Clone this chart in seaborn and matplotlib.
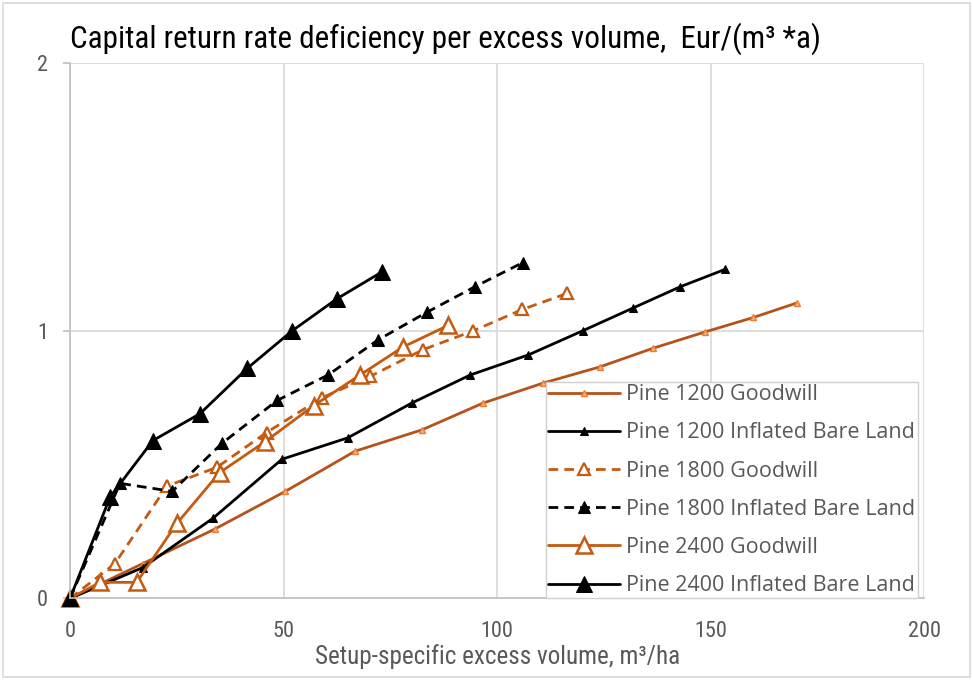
import matplotlib
matplotlib.use("Agg")
import matplotlib.pyplot as plt
from matplotlib import font_manager
from matplotlib.patches import Rectangle
import seaborn as sns
import pandas as pd

# --- data -------------------------------------------------------------
pine1200_gw_x = [0, 17, 34, 50.4, 66.7, 82.4, 96.7, 110.8, 124, 136.5, 148.7, 160, 170.3]
pine1200_gw_y = [0, 0.13, 0.26, 0.40, 0.55, 0.63, 0.73, 0.805, 0.865, 0.935, 0.996, 1.05, 1.105]

pine1200_bl_x = [0, 17, 33.5, 49.6, 65, 80, 93.7, 107.3, 120, 131.9, 142.9, 153.4]
pine1200_bl_y = [0, 0.115, 0.30, 0.52, 0.60, 0.73, 0.835, 0.91, 1.0, 1.086, 1.165, 1.23]

pine1800_gw_x = [0, 10.5, 22.7, 34.4, 46, 59, 70.3, 82.7, 94.4, 105.9, 116.4]
pine1800_gw_y = [0, 0.13, 0.42, 0.49, 0.62, 0.75, 0.83, 0.93, 1.0, 1.08, 1.14]

pine1800_bl_x = [0, 11.7, 23.9, 35.6, 48.5, 60.4, 72.1, 83.6, 94.8, 106]
pine1800_bl_y = [0, 0.43, 0.40, 0.58, 0.74, 0.835, 0.966, 1.07, 1.165, 1.255]

pine2400_gw_x = [0, 7, 15.6, 25, 35, 45.6, 57, 67.9, 78, 88.5]
pine2400_gw_y = [0, 0.06, 0.06, 0.28, 0.47, 0.585, 0.72, 0.835, 0.94, 1.02]

pine2400_bl_x = [0, 9.4, 19.4, 30.4, 41.5, 52, 62.5, 73]
pine2400_bl_y = [0, 0.38, 0.59, 0.69, 0.86, 1.0, 1.12, 1.22]

series_labels = [
    "Pine 1200 Goodwill",
    "Pine 1200 Inflated Bare Land",
    "Pine 1800 Goodwill",
    "Pine 1800 Inflated Bare Land",
    "Pine 2400 Goodwill",
    "Pine 2400 Inflated Bare Land",
]

x_ticks = [0, 50, 100, 150, 200]
y_ticks = [0, 1, 2]

title_text = "Capital return rate deficiency per excess volume,  Eur/(m\u00b3 *a)"
xlabel_text = "Setup-specific excess volume, m\u00b3/ha"

# --- fonts ------------------------------------------------------------
available = {f.name for f in font_manager.fontManager.ttflist}


def pick(*names):
    for n in names:
        if n in available:
            return n
    return "DejaVu Sans"


narrow_font = pick("Liberation Sans Narrow", "Roboto Condensed", "Open Sans Condensed", "Lato", "Liberation Sans")
legend_font = pick("Open Sans", "Lato", "Noto Sans")

sns.set_theme(style="white")
plt.rcParams["font.family"] = [narrow_font, "DejaVu Sans"]

# --- styles -----------------------------------------------------------
brown = "#C55A11"
light_orange = "#F4B183"
grid_grey = "#D9D9D9"
text_grey = "#595959"

styles = [
    dict(color="#B5531A", linestyle="-", marker="^", markersize=5, markerfacecolor=light_orange,
         markeredgecolor="#ED7D31", markeredgewidth=1.0),
    dict(color="black", linestyle="-", marker="^", markersize=5.5, markerfacecolor="black",
         markeredgecolor="black"),
    dict(color=brown, linestyle=(0, (3.5, 2.2)), marker="^", markersize=8, markerfacecolor="white",
         markeredgecolor=brown, markeredgewidth=1.6),
    dict(color="black", linestyle=(0, (3.5, 2.2)), marker="^", markersize=8, markerfacecolor="black",
         markeredgecolor="black"),
    dict(color=brown, linestyle="-", marker="^", markersize=11.5, markerfacecolor="white",
         markeredgecolor=brown, markeredgewidth=1.8),
    dict(color="black", linestyle="-", marker="^", markersize=11.5, markerfacecolor="black",
         markeredgecolor="black"),
]

all_x = [pine1200_gw_x, pine1200_bl_x, pine1800_gw_x, pine1800_bl_x, pine2400_gw_x, pine2400_bl_x]
all_y = [pine1200_gw_y, pine1200_bl_y, pine1800_gw_y, pine1800_bl_y, pine2400_gw_y, pine2400_bl_y]

# --- figure -----------------------------------------------------------
fig = plt.figure(figsize=(9.73, 6.8), dpi=100)
ax = fig.add_axes([0.072, 0.12, 0.878, 0.787])

for xs, ys, lab, st in zip(all_x, all_y, series_labels, styles):
    df = pd.DataFrame({"x": xs, "y": ys})
    sns.lineplot(data=df, x="x", y="y", ax=ax, label=lab, sort=False, estimator=None,
                 linewidth=2.0, clip_on=False, **st)

ax.set_xlim(0, 200)
ax.set_ylim(0, 2)
ax.set_xticks(x_ticks)
ax.set_yticks(y_ticks)
ax.set_xticklabels([str(v) for v in x_ticks])
ax.set_yticklabels([str(v) for v in y_ticks])
ax.grid(True, color=grid_grey, linewidth=1.2)
ax.set_axisbelow(True)

for side in ["top", "right"]:
    ax.spines[side].set_visible(False)
for side in ["left", "bottom"]:
    ax.spines[side].set_color("#BFBFBF")
    ax.spines[side].set_linewidth(1.2)

ax.tick_params(axis="y", which="major", left=True, length=5, width=1.2, color="#BFBFBF",
               labelsize=16, labelcolor=text_grey, pad=11)
ax.tick_params(axis="x", which="major", bottom=False, labelsize=16, labelcolor=text_grey, pad=10)

ax.set_xlabel(xlabel_text, fontsize=18.1, color=text_grey, labelpad=2)
ax.set_ylabel("")
ax.set_title(title_text, fontsize=22.4, color="black", loc="left", pad=11, x=0.0)

leg = ax.legend(loc="lower right", bbox_to_anchor=(0.992, 0.0), borderaxespad=0, frameon=True,
                fancybox=False, handlelength=3.35, handletextpad=0.3, labelspacing=0.8,
                borderpad=0.1, prop={"family": [legend_font, "DejaVu Sans"], "size": 15.5})
leg.get_frame().set_edgecolor("#D0D0D0")
leg.get_frame().set_linewidth(1.0)
leg.get_frame().set_facecolor("white")
leg.get_frame().set_alpha(1.0)
for t in leg.get_texts():
    t.set_color(text_grey)

# outer chart frame
fig.patches.append(Rectangle((0.003, 0.004), 0.994, 0.992, transform=fig.transFigure,
                             fill=False, edgecolor="#D9D9D9", linewidth=1.2))

fig.savefig("out.png", dpi=100)
